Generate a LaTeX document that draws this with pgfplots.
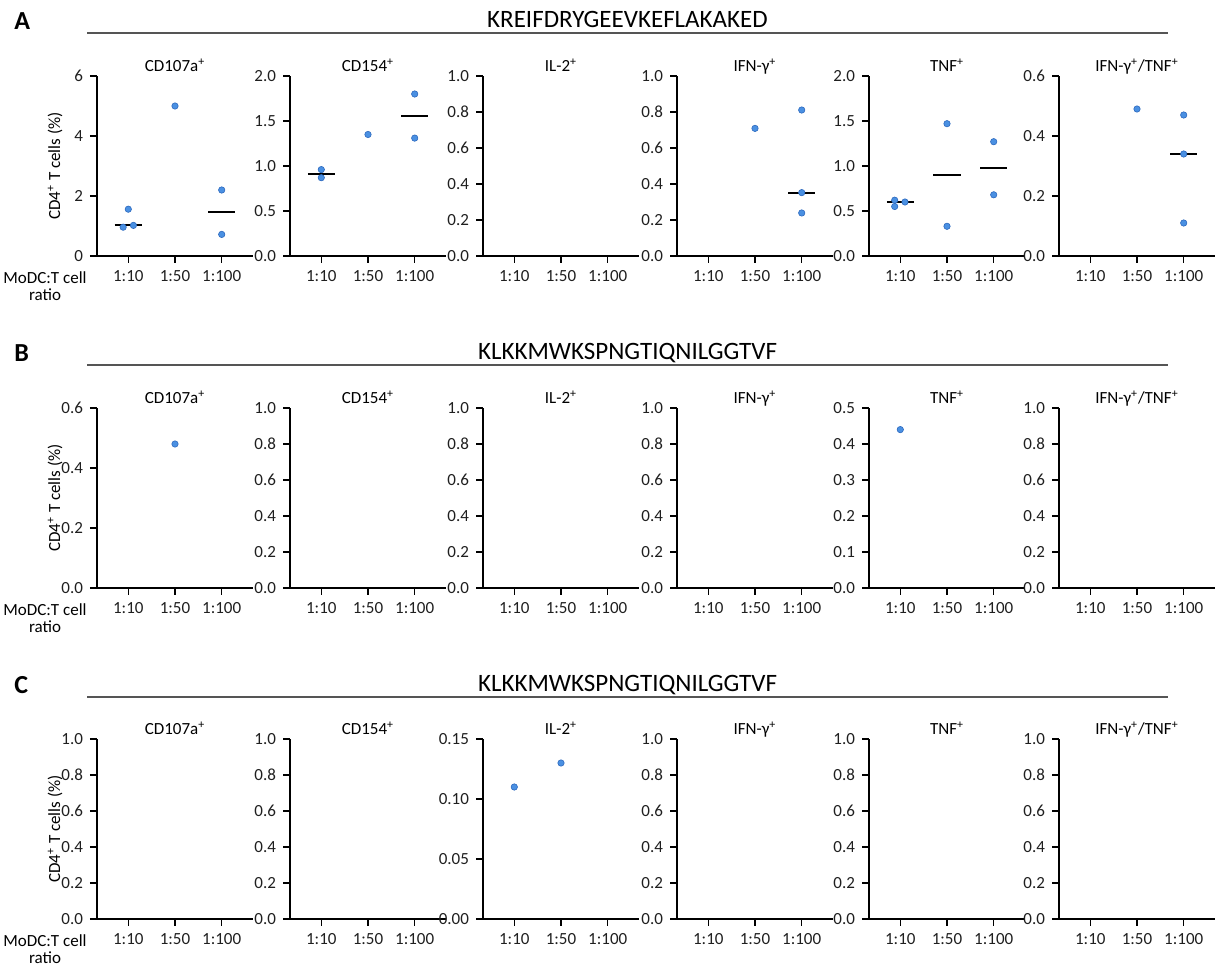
\documentclass[border=0pt]{standalone}
\usepackage{fontspec}
\setmainfont{Carlito}
\usepackage{pgfplots}
\pgfplotsset{compat=1.18}
\definecolor{dotblue}{RGB}{74,144,226}
\definecolor{dotedge}{RGB}{45,105,190}
\definecolor{rulegray}{RGB}{85,85,85}
\newcommand{\pos}{\textsuperscript{+}}
\newcommand{\sm}{\fontsize{8.5}{8.5}\selectfont}
\pgfplotsset{
  every axis title/.style={at={(0.5,1)}, anchor=base, yshift=2.2pt, font=\sm},
  panel/.style={
    scale only axis, width=78pt, height=90pt,
    xmin=-0.67, xmax=2.67, ymin=0,
    axis lines=left, axis line style={-, black},
    x axis line style={line width=0.7pt},
    y axis line style={line width=1.1pt},
    xtick={0,1,2}, xticklabels={1:10,1:50,1:100},
    tick align=outside, major tick length=3.5pt,
    tick style={black, line width=0.7pt},
    ticklabel style={font=\sm, text=black!88},
    clip=false,
    anchor=south west,
  },
  one/.style={ymax=1, ytick={0,0.2,0.4,0.6,0.8,1}, yticklabels={0.0,0.2,0.4,0.6,0.8,1.0}},
  two/.style={ymax=2, ytick={0,0.5,1,1.5,2}, yticklabels={0.0,0.5,1.0,1.5,2.0}},
  six/.style={ymax=0.6, ytick={0,0.2,0.4,0.6}, yticklabels={0.0,0.2,0.4,0.6}},
  dots/.style={only marks, mark=*, mark size=1.6pt, mark options={fill=dotblue, draw=dotedge, line width=0.3pt}},
  med/.style={black, line width=1pt, no marks},
}
\begin{document}
\begin{tikzpicture}
\path[use as bounding box] (0,0) rectangle (608.5pt,-483.5pt);

% ---------- Row headers ----------
\foreach \lab/\ly/\tt in {A/-16.5/KREIFDRYGEEVKEFLAKAKED, B/-182.5/KLKKMWKSPNGTIQNILGGTVF, C/-348.5/KLKKMWKSPNGTIQNILGGTVF}{
  \draw[rulegray, line width=0.75pt] (43.5pt,\ly pt) -- (584pt,\ly pt);
  \node[anchor=base, inner sep=0pt, font=\fontsize{12.5}{13}\selectfont] at (313.75pt,\ly pt+2.6pt) {\tt};
  \node[anchor=base west, inner sep=0pt, font=\fontsize{13}{13}\bfseries] at (7pt,\ly pt+1.5pt) {\lab};
}
\foreach \yb in {-128,-294,-459.5}{
  \node[rotate=90, inner sep=0pt, font=\sm] at (27.5pt,\yb pt+45pt) {CD4\pos{} T cells (\%)};
  \node[align=center, inner sep=0pt, font=\sm] at (22.5pt,\yb pt-15.3pt) {MoDC:T cell\\ratio};
}

% ================= Row A =================
\begin{axis}[panel, at={(48.5pt,-128pt)}, ymax=6, ytick={0,2,4,6}, yticklabels={0,2,4,6}, title={CD107a\pos}]
\addplot[med] coordinates {(-0.29,1.02) (0.29,1.02)};
\addplot[med] coordinates {(1.71,1.47) (2.29,1.47)};
\addplot[dots] coordinates {(0,1.56) (-0.11,0.96) (0.11,1.02) (1,5.0) (2,2.2) (2,0.72)};
\end{axis}
\begin{axis}[panel, two, at={(145pt,-128pt)}, title={CD154\pos}]
\addplot[med] coordinates {(-0.29,0.915) (0.29,0.915)};
\addplot[med] coordinates {(1.71,1.555) (2.29,1.555)};
\addplot[dots] coordinates {(0,0.96) (0,0.87) (1,1.35) (2,1.80) (2,1.31)};
\end{axis}
\begin{axis}[panel, one, at={(241.5pt,-128pt)}, title={IL-2\pos}]
\end{axis}
\begin{axis}[panel, one, at={(338.5pt,-128pt)}, title={IFN-γ\pos}]
\addplot[med] coordinates {(1.71,0.352) (2.29,0.352)};
\addplot[dots] coordinates {(1,0.709) (2,0.811) (2,0.352) (2,0.239)};
\end{axis}
\begin{axis}[panel, two, at={(434.5pt,-128pt)}, title={TNF\pos}]
\addplot[med] coordinates {(-0.29,0.60) (0.29,0.60)};
\addplot[med] coordinates {(0.71,0.90) (1.29,0.90)};
\addplot[med] coordinates {(1.71,0.975) (2.29,0.975)};
\addplot[dots] coordinates {(-0.12,0.62) (-0.12,0.55) (0.1,0.60) (1,1.47) (1,0.33) (2,1.27) (2,0.68)};
\end{axis}
\begin{axis}[panel, six, at={(529.5pt,-128pt)}, title={IFN-γ\pos/TNF\pos}]
\addplot[med] coordinates {(1.71,0.34) (2.29,0.34)};
\addplot[dots] coordinates {(1,0.49) (2,0.47) (2,0.34) (2,0.11)};
\end{axis}

% ================= Row B =================
\begin{axis}[panel, six, at={(48.5pt,-294pt)}, title={CD107a\pos}]
\addplot[dots] coordinates {(1,0.48)};
\end{axis}
\begin{axis}[panel, one, at={(145pt,-294pt)}, title={CD154\pos}]
\end{axis}
\begin{axis}[panel, one, at={(241.5pt,-294pt)}, title={IL-2\pos}]
\end{axis}
\begin{axis}[panel, one, at={(338.5pt,-294pt)}, title={IFN-γ\pos}]
\end{axis}
\begin{axis}[panel, at={(434.5pt,-294pt)}, ymax=0.5, ytick={0,0.1,0.2,0.3,0.4,0.5}, yticklabels={0.0,0.1,0.2,0.3,0.4,0.5}, title={TNF\pos}]
\addplot[dots] coordinates {(0,0.44)};
\end{axis}
\begin{axis}[panel, one, at={(529.5pt,-294pt)}, title={IFN-γ\pos/TNF\pos}]
\end{axis}

% ================= Row C =================
\begin{axis}[panel, one, at={(48.5pt,-459.5pt)}, title={CD107a\pos}]
\end{axis}
\begin{axis}[panel, one, at={(145pt,-459.5pt)}, title={CD154\pos}]
\end{axis}
\begin{axis}[panel, at={(241.5pt,-459.5pt)}, ymax=0.15, ytick={0,0.05,0.1,0.15}, yticklabels={0.00,0.05,0.10,0.15}, title={IL-2\pos}]
\addplot[dots] coordinates {(0,0.11) (1,0.13)};
\end{axis}
\begin{axis}[panel, one, at={(338.5pt,-459.5pt)}, title={IFN-γ\pos}]
\end{axis}
\begin{axis}[panel, one, at={(434.5pt,-459.5pt)}, title={TNF\pos}]
\end{axis}
\begin{axis}[panel, one, at={(529.5pt,-459.5pt)}, title={IFN-γ\pos/TNF\pos}]
\end{axis}
\end{tikzpicture}
\end{document}
